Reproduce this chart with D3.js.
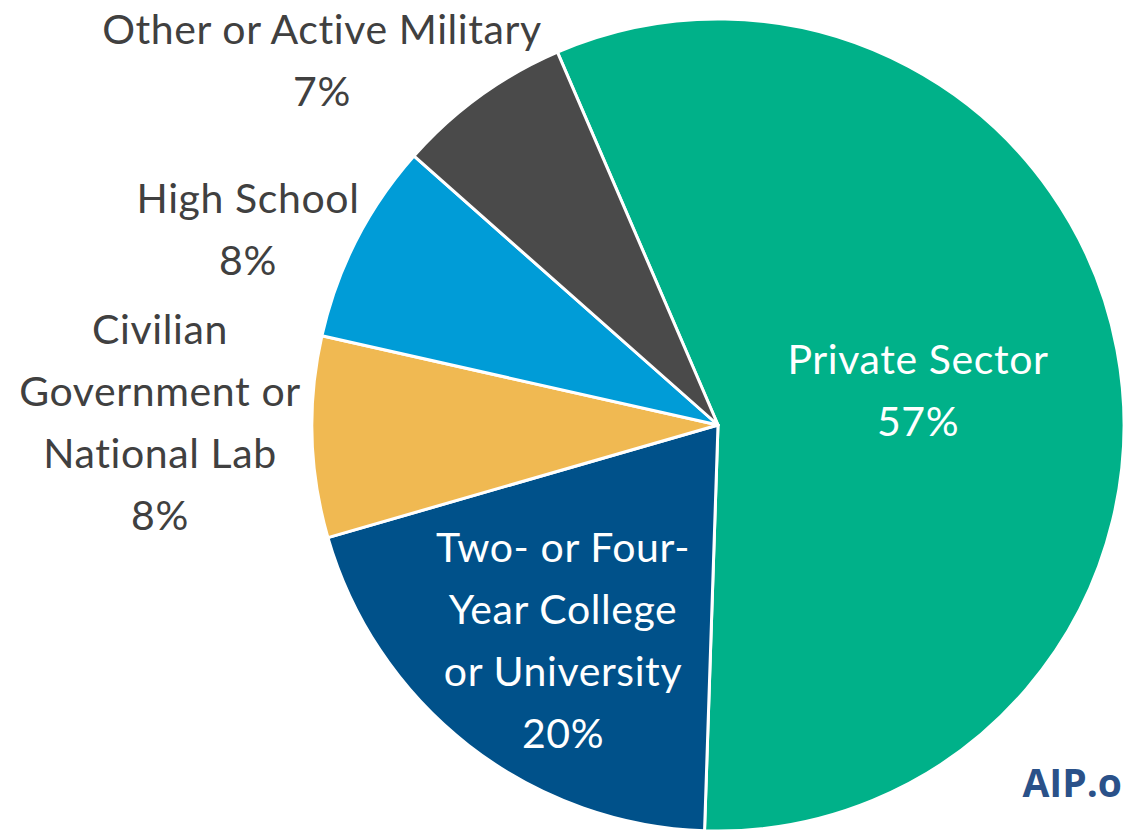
<!DOCTYPE html>
<html>
<head>
<meta charset="utf-8">
<script src="https://cdn.jsdelivr.net/npm/d3@7"></script>
<style>
  html, body { margin: 0; padding: 0; background: #ffffff; }
  svg { display: block; }
  text { font-family: "Lato", "Noto Sans", sans-serif; }
</style>
</head>
<body>
<svg id="chart" width="1125" height="832"></svg>
<script>
// Employment sectors and their shares (percent)
const categories = [
  "Private Sector",
  "Two- or Four-Year College or University",
  "Civilian Government or National Lab",
  "High School",
  "Other or Active Military"
];
const shares = [57, 20, 8, 8, 7];
const colors = ["#00b189", "#00518a", "#f0b952", "#009cd7", "#4a4a4a"];

// Label lines for each slice (last line is the percentage)
const labelLines = [
  ["Private Sector"],
  ["Two- or Four-", "Year College", "or University"],
  ["Civilian", "Government or", "National Lab"],
  ["High School"],
  ["Other or Active Military"]
];

const svg = d3.select("#chart");
const cx = 718, cy = 425, radius = 406;

const startAngle = -23.3 * Math.PI / 180;
const pie = d3.pie()
  .sort(null)
  .value(d => d.value)
  .startAngle(startAngle)
  .endAngle(startAngle + 2 * Math.PI);

const data = categories.map((c, i) => ({ name: c, value: shares[i], color: colors[i], lines: labelLines[i] }));
const arcs = pie(data);

const arc = d3.arc().innerRadius(0).outerRadius(radius);

const g = svg.append("g").attr("transform", `translate(${cx},${cy})`);

g.selectAll("path.slice")
  .data(arcs)
  .join("path")
  .attr("class", "slice")
  .attr("d", arc)
  .attr("fill", d => d.data.color)
  .attr("stroke", "#ffffff")
  .attr("stroke-width", 3)
  .attr("stroke-linejoin", "round");

// Label placement: [center x, first baseline y, text colour] in page coordinates
const labelPos = [
  [918, 374, "#ffffff"],
  [563, 562, "#ffffff"],
  [160, 344, "#404040"],
  [248, 213, "#404040"],
  [322, 44, "#404040"]
];
const lineHeight = 62;

const labels = svg.append("g").attr("class", "labels");
arcs.forEach((a, i) => {
  const [x, y, fill] = labelPos[i];
  const lines = a.data.lines.concat([`${a.data.value}%`]);
  const t = labels.append("text")
    .attr("text-anchor", "middle")
    .attr("fill", fill)
    .style("font-size", "41px")
    .style("letter-spacing", "0.6px");
  lines.forEach((ln, j) => {
    t.append("tspan")
      .attr("x", x)
      .attr("y", y + j * lineHeight)
      .text(ln);
  });
});

// Source mark
svg.append("text")
  .attr("x", 1122)
  .attr("y", 797)
  .attr("text-anchor", "end")
  .attr("fill", "#2a5189")
  .style("font-family", "'Open Sans', sans-serif")
  .style("font-weight", 700)
  .style("font-size", "39px")
  .text("AIP.o");
</script>
</body>
</html>
